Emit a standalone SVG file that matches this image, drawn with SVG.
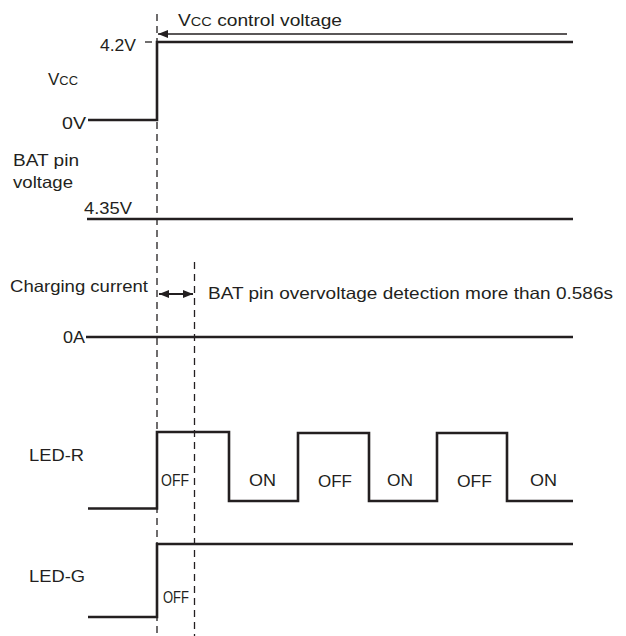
<svg xmlns="http://www.w3.org/2000/svg" width="626" height="636" viewBox="0 0 626 636">
<defs>
<style>
text{font-family:"Liberation Sans",Arial,sans-serif;font-size:16.5px;fill:#231f20}
.sig{fill:none;stroke:#231f20;stroke-width:2.6;stroke-linejoin:miter}
.thin{fill:none;stroke:#231f20;stroke-width:1.3}
.dbl{fill:none;stroke:#231f20;stroke-width:1.8}
.dash{fill:none;stroke:#231f20;stroke-width:1.3;stroke-dasharray:7,5}
.sm{font-size:12.5px}
.cond{font-size:16px}
</style>
<marker id="ah" viewBox="0 0 10 10" refX="10" refY="5" markerWidth="10" markerHeight="10" markerUnits="userSpaceOnUse" orient="auto-start-reverse">
<path d="M0,1 L10,5 L0,9 Z" fill="#231f20"/>
</marker>
</defs>

<g id="connectors">
<line class="dash" x1="157" y1="14" x2="157" y2="636"/>
<line class="dash" x1="194.5" y1="262" x2="194.5" y2="636"/>
<line class="thin" x1="567" y1="34" x2="158" y2="34" marker-end="url(#ah)"/>
<line class="dbl" x1="159" y1="294" x2="193" y2="294" marker-start="url(#ah)" marker-end="url(#ah)"/>
</g>

<g id="vcc">
<text x="48" y="85" textLength="30" lengthAdjust="spacingAndGlyphs">V<tspan class="sm">CC</tspan></text>
<text x="100" y="51" textLength="36" lengthAdjust="spacingAndGlyphs">4.2V</text>
<line class="thin" x1="145" y1="42" x2="152" y2="42"/>
<text x="62" y="129" textLength="24" lengthAdjust="spacingAndGlyphs">0V</text>
<polyline class="sig" points="88,120 157,120 157,42 573,42"/>
<text x="178" y="26" textLength="164" lengthAdjust="spacingAndGlyphs">V<tspan class="sm">CC</tspan> control voltage</text>
</g>

<g id="bat">
<text x="13" y="166" textLength="66" lengthAdjust="spacingAndGlyphs">BAT pin</text>
<text x="13" y="188" textLength="60" lengthAdjust="spacingAndGlyphs">voltage</text>
<text x="84" y="214" textLength="48" lengthAdjust="spacingAndGlyphs">4.35V</text>
<line class="sig" x1="87" y1="219" x2="573" y2="219"/>
</g>

<g id="charging">
<text x="10" y="292" textLength="138" lengthAdjust="spacingAndGlyphs">Charging current</text>
<text x="208" y="299" textLength="405" lengthAdjust="spacingAndGlyphs">BAT pin overvoltage detection more than 0.586s</text>
<text x="63" y="343" textLength="22" lengthAdjust="spacingAndGlyphs">0A</text>
<line class="sig" x1="86" y1="337" x2="573" y2="337"/>
</g>

<g id="led-r">
<text x="29" y="461" textLength="55" lengthAdjust="spacingAndGlyphs">LED-R</text>
<polyline class="sig" points="88,508.5 157,508.5 157,432 229,432 229,501 298,501 298,433 369,433 369,501 437,501 437,433 507,433 507,501 573,501"/>
<text class="cond" x="161" y="486" textLength="28" lengthAdjust="spacingAndGlyphs">OFF</text>
<text x="249" y="486" textLength="27" lengthAdjust="spacingAndGlyphs">ON</text>
<text x="318" y="487" textLength="34" lengthAdjust="spacingAndGlyphs">OFF</text>
<text x="387" y="486" textLength="26" lengthAdjust="spacingAndGlyphs">ON</text>
<text x="457" y="487" textLength="35" lengthAdjust="spacingAndGlyphs">OFF</text>
<text x="530" y="486" textLength="27" lengthAdjust="spacingAndGlyphs">ON</text>
</g>

<g id="led-g">
<text x="29" y="582" textLength="56" lengthAdjust="spacingAndGlyphs">LED-G</text>
<polyline class="sig" points="88,617 157,617 157,544 573,544"/>
<text class="cond" x="163" y="603" textLength="26" lengthAdjust="spacingAndGlyphs">OFF</text>
</g>
</svg>
